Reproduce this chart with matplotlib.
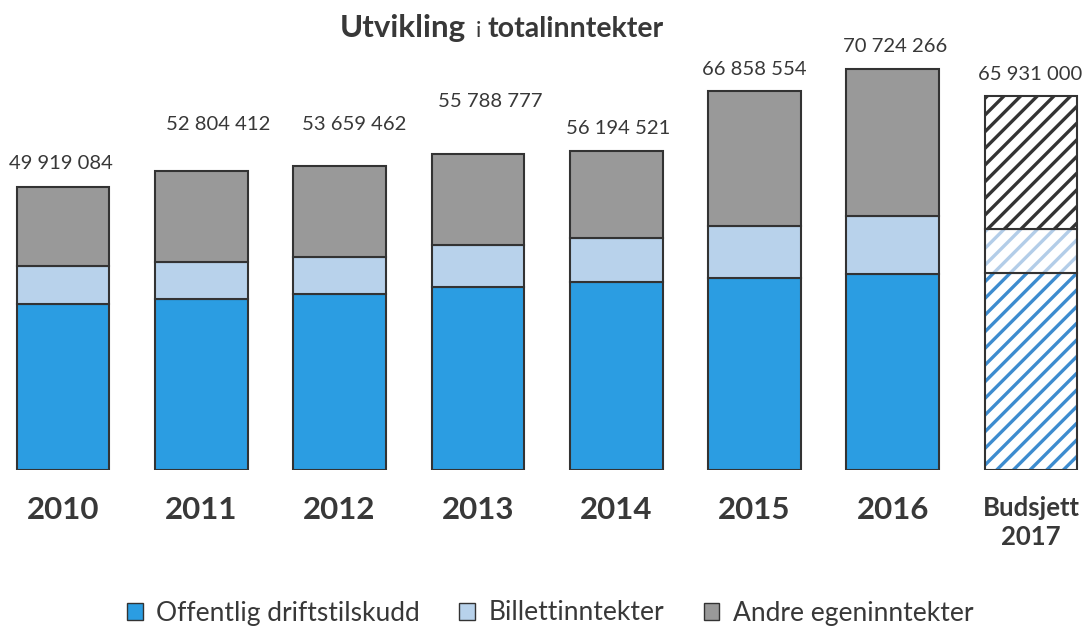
import matplotlib.pyplot as plt
from matplotlib.patches import Patch

plt.rcParams['font.family'] = ['Lato', 'DejaVu Sans']
plt.rcParams['hatch.linewidth'] = 2.4

# Categories and values (millions NOK)
years = ['2010', '2011', '2012', '2013', '2014', '2015', '2016', 'Budsjett\n2017']
totals = [49919084, 52804412, 53659462, 55788777, 56194521, 66858554, 70724266, 65931000]
offentlig = [29.3, 30.1, 31.0, 32.2, 33.2, 33.9, 34.5, 34.7]
billett = [6.6, 6.6, 6.5, 7.5, 7.7, 9.2, 10.3, 7.8]
andre = [14.0, 16.1, 16.2, 16.1, 15.3, 23.8, 25.9, 23.4]
series_names = ['Offentlig driftstilskudd', 'Billettinntekter', 'Andre egeninntekter']

# label nudges (pixels) so the totals sit where the original put them
label_dx = [-2, 17, 15, 12, 2, 0, 2, -1]
label_dy = [24, 46, 41, 52, 23, 21, 23, 22]

BLUE = '#2b9de2'
LIGHT = '#b8d2eb'
GREY = '#999999'
HATCH_BLUE = '#3d8ccf'
HATCH_LIGHT = '#b3cde8'
HATCH_GREY = '#333333'
EDGE = '#333333'
TEXT = '#383838'

fig = plt.figure(figsize=(10.85, 6.33), dpi=100)
ax = fig.add_axes([0, 163 / 633, 1, 470 / 633])

x = list(range(len(years)))
width = 0.67
n = 7  # actual years, last one is budget

bottom2 = [a + b for a, b in zip(offentlig, billett)]

# actual years, solid fills
ax.bar(x[:n], offentlig[:n], width, color=BLUE, edgecolor=EDGE, linewidth=1.5)
ax.bar(x[:n], billett[:n], width, bottom=offentlig[:n], color=LIGHT, edgecolor=EDGE, linewidth=1.5)
ax.bar(x[:n], andre[:n], width, bottom=bottom2[:n], color=GREY, edgecolor=EDGE, linewidth=1.5)

# budget, hatched
for vals, bot, hc in [(offentlig, [0] * len(x), HATCH_BLUE),
                      (billett, offentlig, HATCH_LIGHT),
                      (andre, bottom2, HATCH_GREY)]:
    ax.bar(x[n:], vals[n:], width, bottom=bot[n:], color='white', edgecolor=hc,
           hatch='//', linewidth=0)
    ax.bar(x[n:], vals[n:], width, bottom=bot[n:], fill=False, edgecolor=EDGE, linewidth=1.5)

# total labels
for i, t in enumerate(totals):
    top = offentlig[i] + billett[i] + andre[i]
    lab = f'{t:,}'.replace(',', ' ')
    ax.annotate(lab, (x[i], top), xytext=(label_dx[i] * 0.72, label_dy[i] * 0.72),
                textcoords='offset points', ha='center', va='center',
                fontsize=14.6, color=TEXT)

ax.set_xlim(-63 / 138.3, (1085 - 63) / 138.3)
ax.set_ylim(0, 470 / 5.67)
ax.set_xticks(x)
ax.set_xticklabels(years, fontsize=22.5, fontweight='bold', color=TEXT, linespacing=1.25)
ax.get_xticklabels()[-1].set_fontsize(18.5)
ax.tick_params(axis='x', length=0, pad=19)
ax.set_yticks([])
for s in ax.spines.values():
    s.set_visible(False)

# title in mixed weights
fig.text(466 / 1085, 1 - 37 / 633, 'Utvikling', ha='right', va='baseline',
         fontsize=22.5, fontweight='bold', color=TEXT)
fig.text(476 / 1085, 1 - 37 / 633, 'i', ha='left', va='baseline',
         fontsize=16, color=TEXT)
fig.text(487 / 1085, 1 - 37 / 633, 'totalinntekter', ha='left', va='baseline',
         fontsize=20.5, fontweight='bold', color=TEXT)

handles = [Patch(facecolor=BLUE, edgecolor=EDGE, linewidth=1),
           Patch(facecolor=LIGHT, edgecolor=EDGE, linewidth=1),
           Patch(facecolor=GREY, edgecolor=EDGE, linewidth=1)]
leg = fig.legend(handles, series_names, loc='center', bbox_to_anchor=(550 / 1085, 1 - 613 / 633),
                 ncol=3, frameon=False, fontsize=19, handlelength=0.6, handleheight=0.6,
                 handletextpad=0.5, columnspacing=1.5)
for t in leg.get_texts():
    t.set_color(TEXT)

fig.savefig('out.png', dpi=100)
